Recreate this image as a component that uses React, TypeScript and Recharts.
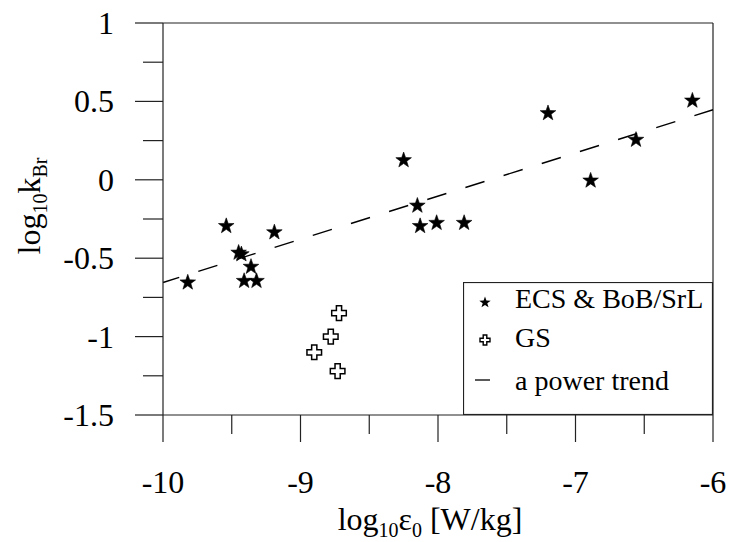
import React from 'react';
import { ScatterChart, Scatter, XAxis, YAxis, ReferenceLine, Legend, Label } from 'recharts';

// ECS & BoB/SrL (stars)
const ecsX = [-9.82, -9.54, -9.19, -9.45, -9.43, -9.36, -9.41, -9.32, -8.25, -8.15, -8.13, -8.01, -7.81, -7.2, -6.89, -6.56, -6.15];
const ecsY = [-0.65, -0.29, -0.33, -0.46, -0.47, -0.55, -0.64, -0.64, 0.13, -0.16, -0.29, -0.27, -0.27, 0.43, 0.0, 0.26, 0.51];
// GS (open crosses)
const gsX = [-8.72, -8.78, -8.9, -8.73];
const gsY = [-0.85, -1.0, -1.1, -1.22];
// power trend endpoints
const trendX = [-10, -6];
const trendY = [-0.655, 0.447];

const xTicks = [-10, -9.5, -9, -8.5, -8, -7.5, -7, -6.5, -6];
const yTicks = [-1.5, -1.25, -1, -0.75, -0.5, -0.25, 0, 0.25, 0.5, 0.75, 1];

const ecsData = ecsX.map((x, i) => ({ x, y: ecsY[i] }));
const gsData = gsX.map((x, i) => ({ x, y: gsY[i] }));
const trendSeg = trendX.map((x, i) => ({ x, y: trendY[i] }));

const FONT = '"Liberation Serif", "Times New Roman", serif';
const INK = '#222';

function starPath(cx: number, cy: number, R: number) {
  const r = R * 0.4;
  let d = '';
  for (let i = 0; i < 10; i++) {
    const a = -Math.PI / 2 + (i * Math.PI) / 5;
    const rad = i % 2 === 0 ? R : r;
    d += (i === 0 ? 'M' : 'L') + (cx + rad * Math.cos(a)).toFixed(2) + ',' + (cy + rad * Math.sin(a)).toFixed(2);
  }
  return d + 'Z';
}

function crossPath(cx: number, cy: number, h: number, a: number) {
  const p = [
    [cx - a, cy - h], [cx + a, cy - h], [cx + a, cy - a], [cx + h, cy - a],
    [cx + h, cy + a], [cx + a, cy + a], [cx + a, cy + h], [cx - a, cy + h],
    [cx - a, cy + a], [cx - h, cy + a], [cx - h, cy - a], [cx - a, cy - a],
  ];
  return 'M' + p.map((q) => q[0].toFixed(2) + ',' + q[1].toFixed(2)).join('L') + 'Z';
}

const StarShape = (props: any) => {
  const { cx, cy } = props;
  if (cx == null || cy == null) return <g />;
  return <path d={starPath(cx, cy + 0.8, 8.2)} fill="#000" stroke="#000" strokeWidth={0.6} strokeLinejoin="round" />;
};

const CrossShape = (props: any) => {
  const { cx, cy } = props;
  if (cx == null || cy == null) return <g />;
  return <path d={crossPath(cx, cy, 7.3, 2.6)} fill="#fff" stroke="#000" strokeWidth={1.5} />;
};

const XTick = (props: any) => {
  const { x, y, payload } = props;
  const v = payload.value;
  const major = Number.isInteger(v);
  return (
    <g>
      <line x1={x} x2={x} y1={y} y2={y + (major ? 27 : 19)} stroke={INK} strokeWidth={1.2} />
      {major && (
        <text x={x} y={y + 78} textAnchor="middle" fontSize={32} fontFamily={FONT} fill="#000">
          {String(v)}
        </text>
      )}
    </g>
  );
};

const YTick = (props: any) => {
  const { x, y, payload } = props;
  const v = payload.value;
  const major = Number.isInteger(v * 2);
  return (
    <g>
      <line x1={x - (major ? 28 : 20)} x2={x} y1={y} y2={y} stroke={INK} strokeWidth={1.2} />
      {major && (
        <text x={x - 49} y={y + 11} textAnchor="end" fontSize={32} fontFamily={FONT} fill="#000">
          {String(v)}
        </text>
      )}
    </g>
  );
};

const XTitle = (props: any) => {
  const vb = props.viewBox || { x: 163, y: 415, width: 550, height: 127 };
  const cx = vb.x + vb.width / 2 - 8;
  const y = vb.y + 115;
  return (
    <text x={cx} y={y} textAnchor="middle" fontSize={32} fontFamily={FONT} fill="#000">
      log<tspan fontSize={20} dy={7}>10</tspan>
      <tspan dy={-7}>ε</tspan>
      <tspan fontSize={20} dy={7}>0</tspan>
      <tspan dy={-7}> [W/kg]</tspan>
    </text>
  );
};

const YTitle = (props: any) => {
  const vb = props.viewBox || { x: 0, y: 23, width: 163, height: 392 };
  const x = vb.x + 40;
  const y = vb.y + vb.height / 2 - 13;
  return (
    <text x={x} y={y} transform={`rotate(-90, ${x}, ${y})`} textAnchor="middle" fontSize={32} fontFamily={FONT} fill="#000">
      log<tspan fontSize={20} dy={7}>10</tspan>
      <tspan dy={-7}>k</tspan>
      <tspan fontSize={20} dy={7}>Br</tspan>
    </text>
  );
};

const LegendBox = () => (
  <svg width={250} height={133} style={{ display: 'block' }}>
    <rect x={0.5} y={0.5} width={249} height={132} fill="#fff" stroke={INK} strokeWidth={1.2} />
    <path d={starPath(22, 20.5, 6)} fill="#000" />
    <text x={52} y={26} fontSize={28} fontFamily={FONT} fill="#000">ECS &amp; BoB/SrL</text>
    <path d={crossPath(22, 58, 5, 1.8)} fill="#fff" stroke="#000" strokeWidth={1.4} />
    <text x={52} y={65} fontSize={28} fontFamily={FONT} fill="#000">GS</text>
    <line x1={12} x2={27} y1={98} y2={98} stroke="#000" strokeWidth={1.3} />
    <text x={52} y={108} fontSize={28} fontFamily={FONT} fill="#000">a power trend</text>
  </svg>
);

export default function App() {
  return (
    <div style={{ position: 'absolute', left: 0, top: 0, width: 730, height: 542, background: '#fff' }}>
      <ScatterChart width={730} height={542} margin={{ top: 23, right: 17, bottom: 0, left: 0 }}>
        <XAxis
          type="number"
          dataKey="x"
          domain={[-10, -6]}
          ticks={xTicks}
          interval={0}
          allowDataOverflow
          height={127}
          tickSize={0}
          tickMargin={0}
          tickLine={false}
          axisLine={{ stroke: INK, strokeWidth: 1.2 }}
          tick={<XTick />}
        >
          <Label content={<XTitle />} />
        </XAxis>
        <YAxis
          type="number"
          dataKey="y"
          domain={[-1.5, 1]}
          ticks={yTicks}
          interval={0}
          allowDataOverflow
          width={163}
          tickSize={0}
          tickMargin={0}
          tickLine={false}
          axisLine={{ stroke: INK, strokeWidth: 1.2 }}
          tick={<YTick />}
        >
          <Label content={<YTitle />} />
        </YAxis>
        <ReferenceLine y={1} stroke={INK} strokeWidth={1.2} />
        <ReferenceLine x={-6} stroke={INK} strokeWidth={1.2} />
        <ReferenceLine
          segment={trendSeg}
          stroke="#000"
          strokeWidth={1.4}
          strokeDasharray="20 20"
          strokeDashoffset={3}
        />
        <Scatter name="GS" data={gsData} shape={CrossShape} isAnimationActive={false} />
        <Scatter name="ECS & BoB/SrL" data={ecsData} shape={StarShape} isAnimationActive={false} />
        <Legend
          layout="vertical"
          align="center"
          verticalAlign="middle"
          wrapperStyle={{ left: 463, top: 282, width: 250, height: 133 }}
          content={<LegendBox />}
        />
      </ScatterChart>
    </div>
  );
}
